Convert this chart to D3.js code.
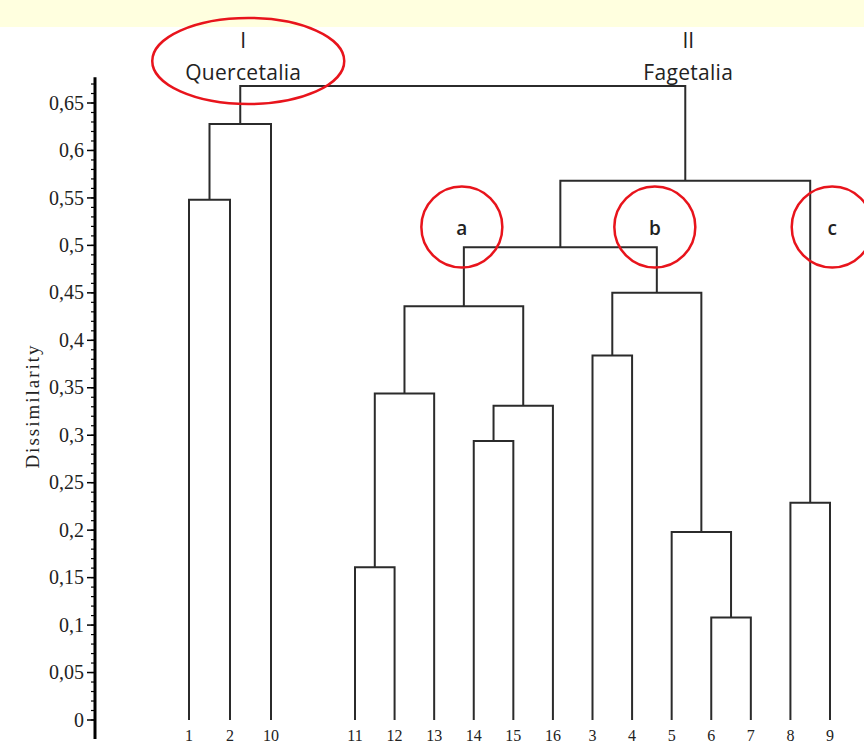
<!DOCTYPE html>
<html>
<head>
<meta charset="utf-8">
<script src="https://cdn.jsdelivr.net/npm/d3@7"></script>
<style>
  body { margin: 0; background: #fff; }
  svg { display: block; }
</style>
</head>
<body>
<script>
// leaves, in the order they stand on the x axis
var leavesI = ["1", "2", "10"];
var leavesII = ["11", "12", "13", "14", "15", "16", "3", "4", "5", "6", "7", "8", "9"];

// merges: two children (leaf label or merge id) and the dissimilarity they join at
var merges = [
    {id: "m1",  left: "1",   right: "2",   h: 0.548},
    {id: "m2",  left: "m1",  right: "10",  h: 0.628},
    {id: "m3",  left: "11",  right: "12",  h: 0.161},
    {id: "m4",  left: "m3",  right: "13",  h: 0.344},
    {id: "m5",  left: "14",  right: "15",  h: 0.294},
    {id: "m6",  left: "m5",  right: "16",  h: 0.331},
    {id: "m7",  left: "m4",  right: "m6",  h: 0.436},
    {id: "m8",  left: "3",   right: "4",   h: 0.384},
    {id: "m9",  left: "6",   right: "7",   h: 0.108},
    {id: "m10", left: "5",   right: "m9",  h: 0.198},
    {id: "m11", left: "m8",  right: "m10", h: 0.45},
    {id: "m12", left: "8",   right: "9",   h: 0.229},
    {id: "m13", left: "m7",  right: "m11", h: 0.498},
    {id: "m14", left: "m13", right: "m12", h: 0.568},
    {id: "m15", left: "m2",  right: "m14", h: 0.668}
];

// axis ticks
var tickValues = [0, 0.05, 0.1, 0.15, 0.2, 0.25, 0.3, 0.35, 0.4, 0.45, 0.5, 0.55, 0.6, 0.65];
var minorStep = 0.01;

// labels for the groups
var orders = [
    {num: "I",  name: "Quercetalia", node: "m2"},
    {num: "II", name: "Fagetalia",   node: "m14"}
];
var subgroups = [
    {label: "a", node: "m7"},
    {label: "b", node: "m11"},
    {label: "c", node: "m12"}
];

var width = 864, height = 743;

var svg = d3.select("body").append("svg")
    .attr("width", width)
    .attr("height", height);

// pale banner at the top
svg.append("rect")
    .attr("x", 0).attr("y", 0)
    .attr("width", width).attr("height", 27)
    .attr("fill", "#ffffdf");

// scales
var y = d3.scaleLinear()
    .domain([0, 0.65])
    .range([720, 103]);

var xI = d3.scalePoint().domain(leavesI).range([189, 271]);
var xII = d3.scalePoint().domain(leavesII).range([355, 830]);

var pos = {};
leavesI.forEach(function(d) { pos[d] = {x: xI(d), h: 0}; });
leavesII.forEach(function(d) { pos[d] = {x: xII(d), h: 0}; });
merges.forEach(function(m) {
    pos[m.id] = {x: (pos[m.left].x + pos[m.right].x) / 2, h: m.h};
});

// dendrogram links
svg.append("g")
    .selectAll("path")
    .data(merges)
    .enter().append("path")
    .attr("fill", "none")
    .attr("stroke", "#2b2b2b")
    .attr("stroke-width", 2)
    .attr("d", function(m) {
        var l = pos[m.left], r = pos[m.right];
        return "M" + l.x + "," + y(l.h) +
            "V" + y(m.h) +
            "H" + r.x +
            "V" + y(r.h);
    });

// y axis
var axisX = 95;
var axis = svg.append("g")
    .attr("transform", "translate(" + axisX + ",0)");

axis.append("line")
    .attr("y1", y(0.677)).attr("y2", y(-0.02))
    .attr("stroke", "#000")
    .attr("stroke-width", 3);

var minor = d3.range(0, 0.675, minorStep);
axis.selectAll(".minor")
    .data(minor)
    .enter().append("line")
    .attr("class", "minor")
    .attr("x1", -4).attr("x2", 0)
    .attr("y1", function(d) { return y(d); })
    .attr("y2", function(d) { return y(d); })
    .attr("stroke", "#000")
    .attr("stroke-width", 1.2);

axis.selectAll(".major")
    .data(tickValues)
    .enter().append("line")
    .attr("class", "major")
    .attr("x1", -8).attr("x2", 0)
    .attr("y1", function(d) { return y(d); })
    .attr("y2", function(d) { return y(d); })
    .attr("stroke", "#000")
    .attr("stroke-width", 1.5);

var fmt = function(d) { return String(+d.toFixed(2)).replace(".", ","); };

var serif = "'Liberation Serif', 'DejaVu Serif', serif";

axis.selectAll(".tick-label")
    .data(tickValues)
    .enter().append("text")
    .attr("class", "tick-label")
    .attr("x", -11)
    .attr("y", function(d) { return y(d); })
    .attr("dy", "0.33em")
    .attr("text-anchor", "end")
    .attr("font-family", serif)
    .attr("font-size", 20)
    .attr("fill", "#222")
    .text(fmt);

svg.append("text")
    .attr("transform", "translate(39,406) rotate(-90)")
    .attr("text-anchor", "middle")
    .attr("font-family", serif)
    .attr("font-size", 19)
    .attr("letter-spacing", 2)
    .attr("fill", "#222")
    .text("Dissimilarity");

// leaf labels
svg.selectAll(".leaf")
    .data(leavesI.concat(leavesII))
    .enter().append("text")
    .attr("class", "leaf")
    .attr("x", function(d) { return pos[d].x; })
    .attr("y", 741)
    .attr("text-anchor", "middle")
    .attr("font-family", serif)
    .attr("font-size", 16)
    .attr("fill", "#222")
    .text(function(d) { return d; });

// order labels
var sans = "'Open Sans', 'Noto Sans', sans-serif";
orders.forEach(function(o) {
    var cx = pos[o.node].x + 3;
    svg.append("text")
        .attr("x", cx).attr("y", 48)
        .attr("text-anchor", "middle")
        .attr("font-family", sans)
        .attr("font-size", 21)
        .attr("fill", "#222")
        .text(o.num);
    svg.append("text")
        .attr("x", cx).attr("y", 80)
        .attr("text-anchor", "middle")
        .attr("font-family", sans)
        .attr("font-size", 21)
        .attr("letter-spacing", 0.3)
        .attr("fill", "#222")
        .text(o.name);
});

// red rings
svg.append("ellipse")
    .attr("cx", pos["m2"].x + 8).attr("cy", 61)
    .attr("rx", 96).attr("ry", 43)
    .attr("fill", "none")
    .attr("stroke", "#e8141c")
    .attr("stroke-width", 2.5);

subgroups.forEach(function(s) {
    var cx = pos[s.node].x + (s.label === "c" ? 22 : -2);
    svg.append("circle")
        .attr("cx", cx).attr("cy", 227)
        .attr("r", 40.5)
        .attr("fill", "none")
        .attr("stroke", "#e8141c")
        .attr("stroke-width", 2.5);
    svg.append("text")
        .attr("x", cx).attr("y", 228)
        .attr("dy", "0.35em")
        .attr("text-anchor", "middle")
        .attr("font-family", sans)
        .attr("font-weight", 600)
        .attr("font-size", 19)
        .attr("fill", "#222")
        .text(s.label);
});
</script>
</body>
</html>
